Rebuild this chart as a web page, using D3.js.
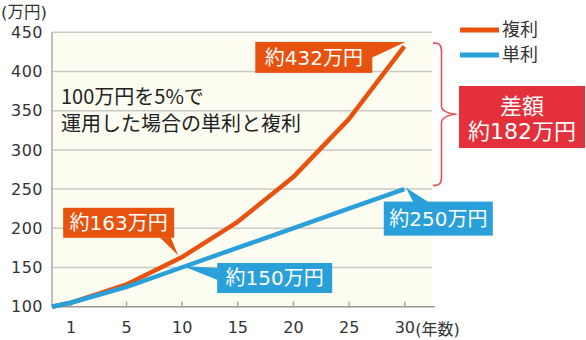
<!DOCTYPE html>
<html>
<head>
<meta charset="utf-8">
<script src="https://cdn.jsdelivr.net/npm/d3@7/dist/d3.min.js"></script>
<style>
  html, body { margin: 0; padding: 0; background: #ffffff; }
  svg { display: block; }
  text { font-family: "DejaVu Sans", "Noto Sans CJK JP", sans-serif; }
</style>
</head>
<body>
<svg id="chart" width="586" height="340"></svg>
<script>
// Years of investment (0 = start) and the balance in 万円
const years = [0, 1, 5, 10, 15, 20, 25, 30];
const compound = [100, 105, 128, 163, 208, 265, 339, 432];   // 複利
const simple   = [100, 105, 125, 150, 175, 200, 225, 250];   // 単利

const xTickValues = [1, 5, 10, 15, 20, 25, 30];
const yTickValues = [100, 150, 200, 250, 300, 350, 400, 450];

const seriesNames = ["複利", "単利"];
const titleLines = ["100万円を5%で", "運用した場合の単利と複利"];
const yUnit = "(万円)";
const xUnit = "(年数)";
const diffLines = ["差額", "約182万円"];

const ORANGE = "#e8520f";
const BLUE = "#29a0da";
const RED = "#e4303b";

const svg = d3.select("#chart");

const plotL = 52, plotR = 432, plotT = 32.3, plotB = 306.7;

// first step (start → year 1) is drawn wider than the following years
const x = d3.scaleLinear().domain([0, 1, 5, 30]).range([plotL, 70.7, 126, 404.3]);
const y = d3.scaleLinear().domain([100, 450]).range([plotB, plotT]);

// plot background
svg.append("rect")
  .attr("x", plotL).attr("y", plotT)
  .attr("width", plotR - plotL).attr("height", plotB - plotT)
  .attr("fill", "#fdfcf1");

// horizontal gridlines
svg.append("g").selectAll("line")
  .data(yTickValues.filter(v => v > 100))
  .join("line")
  .attr("x1", plotL).attr("x2", plotR)
  .attr("y1", d => y(d)).attr("y2", d => y(d))
  .attr("stroke", "#cbc9c5").attr("stroke-width", 1.5);

// y axis
const yAxis = svg.append("g")
  .attr("transform", `translate(${plotL},0)`)
  .call(d3.axisLeft(y).tickValues(yTickValues).tickSize(0).tickPadding(9));
yAxis.select(".domain").remove();
yAxis.selectAll("text")
  .attr("font-size", 16).attr("fill", "#333").attr("letter-spacing", 0.5)
  .style("font-family", "'DejaVu Sans', sans-serif");
svg.append("line")
  .attr("x1", plotL).attr("x2", plotL).attr("y1", plotT).attr("y2", plotB)
  .attr("stroke", "#aaa").attr("stroke-width", 1.5);

// x axis with ticks pointing up into the plot
const xAxis = svg.append("g")
  .attr("transform", `translate(0,${plotB})`)
  .call(d3.axisBottom(x).tickValues(xTickValues).tickSizeInner(-5).tickSizeOuter(0).tickPadding(15).tickFormat(d3.format("d")));
xAxis.select(".domain").remove();
xAxis.selectAll(".tick line").attr("stroke", "#999").attr("stroke-width", 1.3);
xAxis.selectAll("text")
  .attr("font-size", 16).attr("fill", "#333")
  .style("font-family", "'DejaVu Sans', sans-serif");
svg.append("line")
  .attr("x1", plotL).attr("x2", plotR + 3).attr("y1", plotB).attr("y2", plotB)
  .attr("stroke", "#999").attr("stroke-width", 1.5);

// unit labels
svg.append("text")
  .attr("x", 1).attr("y", 12).attr("dy", "0.35em")
  .attr("font-size", 16.5).attr("fill", "#333")
  .text(yUnit);
svg.append("text")
  .attr("x", x(30) + 11).attr("y", plotB + 22.5).attr("dy", "0.35em")
  .attr("font-size", 16).attr("fill", "#333")
  .text(xUnit);

// series lines
const line = d3.line().x((d, i) => x(years[i])).y(d => y(d));
svg.append("path").datum(compound)
  .attr("d", line).attr("fill", "none")
  .attr("stroke", ORANGE).attr("stroke-width", 4.5)
  .attr("stroke-linejoin", "round");
svg.append("path").datum(simple)
  .attr("d", line).attr("fill", "none")
  .attr("stroke", BLUE).attr("stroke-width", 4.5)
  .attr("stroke-linejoin", "round");

// caption inside the plot
svg.append("g").selectAll("text")
  .data(titleLines)
  .join("text")
  .attr("x", 61).attr("y", (d, i) => 97 + i * 26.5).attr("dy", "0.35em")
  .attr("font-size", 20).attr("fill", "#222")
  .style("font-family", "'Noto Sans CJK JP', sans-serif")
  .text(d => d);

// value callouts: box + pointer towards the data point
function callout(year, value, color, box, pointer) {
  const px = x(year), py = y(value);
  const g = svg.append("g");
  g.append("polygon")
    .attr("points", pointer(px, py).map(p => p.join(",")).join(" "))
    .attr("fill", color);
  g.append("rect")
    .attr("x", px + box[0]).attr("y", py + box[1])
    .attr("width", box[2]).attr("height", box[3])
    .attr("fill", color);
  g.append("text")
    .attr("x", px + box[0] + box[2] / 2).attr("y", py + box[1] + box[3] / 2)
    .attr("dy", "0.36em").attr("text-anchor", "middle")
    .attr("font-size", 20).attr("fill", "#fff")
    .text("約" + value + "万円");
}

const i10 = years.indexOf(10), i30 = years.indexOf(30);

callout(30, compound[i30], ORANGE, [-149, -4.5, 117, 31],
  (px, py) => [[px - 36, py - 4.5], [px + 1, py - 4.5], [px - 31, py + 10.5], [px - 36, py + 10.5]]);
callout(10, compound[i10], ORANGE, [-118.5, -49.5, 111, 30],
  (px, py) => [[px - 22, py - 20], [px - 11, py - 20], [px - 3.5, py - 2]]);
callout(10, simple[i10], BLUE, [35.5, -4.5, 115, 30],
  (px, py) => [[px + 36, py + 0.5], [px + 1, py - 1.5], [px + 36, py + 12.5]]);
callout(30, simple[i30], BLUE, [-20.5, 12.5, 109, 34],
  (px, py) => [[px + 1.5, py - 1.5], [px + 9, py + 13], [px + 24, py + 13]]);

// brace spanning the gap between the two end values
const bTop = y(compound[i30]) - 3.5, bBot = y(simple[i30]) - 3.5, bMid = (bTop + bBot) / 2;
const bx0 = 433, bx1 = 441.5, bx2 = 456.5;
svg.append("path")
  .attr("d", `M${bx0},${bTop} C${bx1 - 1},${bTop} ${bx1},${bTop + 3} ${bx1},${bTop + 9}
              L${bx1},${bMid - 8} C${bx1},${bMid - 3} ${bx2 - 6},${bMid} ${bx2},${bMid}
              C${bx2 - 6},${bMid} ${bx1},${bMid + 3} ${bx1},${bMid + 8}
              L${bx1},${bBot - 9} C${bx1},${bBot - 3} ${bx1 - 1},${bBot} ${bx0},${bBot}`)
  .attr("fill", "none").attr("stroke", "#e8505b").attr("stroke-width", 1.6);

// difference box
svg.append("rect")
  .attr("x", 459).attr("y", 86).attr("width", 126).attr("height", 62)
  .attr("fill", RED);
svg.append("g").selectAll("text")
  .data(diffLines)
  .join("text")
  .attr("x", 522).attr("y", (d, i) => 106 + i * 25).attr("dy", "0.36em")
  .attr("text-anchor", "middle")
  .attr("font-size", 22).attr("fill", "#fff")
  .text(d => d);

// legend
const legend = svg.append("g").selectAll("g")
  .data(seriesNames)
  .join("g")
  .attr("transform", (d, i) => `translate(460,${30 + i * 25})`);
legend.append("line")
  .attr("x1", 0).attr("x2", 39).attr("y1", 0).attr("y2", 0)
  .attr("stroke", (d, i) => i === 0 ? ORANGE : BLUE).attr("stroke-width", 5);
legend.append("text")
  .attr("x", 42).attr("y", 0).attr("dy", "0.36em")
  .attr("font-size", 18).attr("fill", "#333")
  .text(d => d);
</script>
</body>
</html>
